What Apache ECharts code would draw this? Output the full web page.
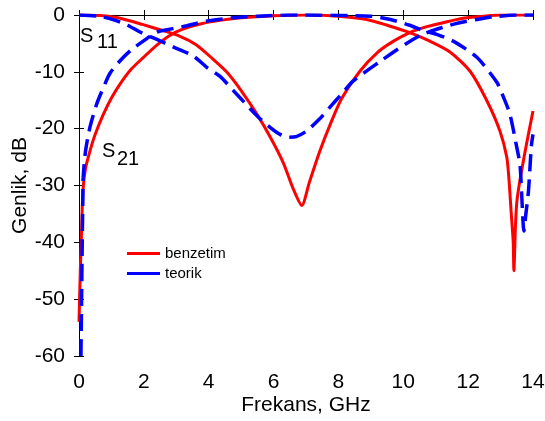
<!DOCTYPE html>
<html>
<head>
<meta charset="utf-8">
<script src="https://cdn.jsdelivr.net/npm/echarts@6/dist/echarts.min.js"></script>
<style>
  html, body { margin: 0; padding: 0; background: #fff; }
  #chart { width: 545px; height: 421px; }
</style>
</head>
<body>
<div id="chart"></div>
<script>
// frekans (GHz), genlik (dB) - okunan değerler
const s21Benzetim = [
  [0.00, -54], [0.04, -45], [0.08, -38], [0.12, -31], [0.2, -27], [0.34, -23.9],
  [0.5, -21], [0.75, -17.5], [1.0, -14.6], [1.26, -12.2], [1.6, -9.6], [1.98, -7.5],
  [2.4, -5.3], [2.8, -3.6], [3.2, -2.5], [3.8, -1.5], [4.4, -0.9], [5.0, -0.5],
  [6.0, -0.15], [7.0, 0], [8.0, -0.2], [8.87, -0.8], [9.5, -1.8], [10.2, -3.1],
  [10.82, -4.6], [11.44, -6.5], [12.06, -9.9], [12.57, -15], [12.98, -20.4],
  [13.19, -25], [13.26, -29], [13.33, -35], [13.39, -40], [13.41, -45],
  [13.46, -37], [13.5, -33], [13.6, -29], [13.8, -22.7], [14.0, -16.9]
];
const s11Benzetim = [
  [0, 0], [0.65, -0.1], [1.3, -0.6], [1.98, -1.7], [2.5, -2.6], [3.1, -3.7],
  [3.6, -5.2], [4.1, -7.6], [4.55, -10], [5.0, -13.3], [5.48, -17.4], [5.9, -21.5],
  [6.3, -26], [6.6, -30.5], [6.87, -33.5], [7.1, -29.5], [7.43, -23.9], [7.75, -19.2],
  [8.1, -14.7], [8.66, -9.9], [9.2, -6.6], [9.7, -4.6], [10.2, -3.1], [10.7, -2.1],
  [11.2, -1.4], [11.8, -0.6], [12.5, -0.2], [13, 0], [14, 0]
];
const s11Teorik = [
  [0, 0], [0.6, -0.2], [1.05, -0.8], [1.5, -1.8], [1.88, -3.0], [2.4, -4.3],
  [2.9, -5.6], [3.52, -7.2], [3.94, -9.2], [4.35, -10.8], [4.76, -13.3], [5.07, -15.2],
  [5.5, -17.8], [5.9, -19.8], [6.2, -21], [6.45, -21.5], [6.7, -21.4], [7.02, -20.4],
  [7.4, -18.4], [7.74, -16.2], [8.1, -13.9], [8.46, -11.6], [9.28, -8.2], [10.1, -5.0],
  [10.6, -3.4], [11.2, -2.2], [11.7, -1.4], [12.26, -0.8], [12.8, -0.3], [13.5, 0], [14, 0]
];
const s21Teorik = [
  [0.06, -60], [0.08, -50], [0.1, -40], [0.12, -32], [0.13, -28.5], [0.2, -24],
  [0.34, -19.7], [0.55, -15.6], [0.75, -12.8], [0.96, -10.2], [1.26, -8.1], [1.6, -6.2],
  [1.98, -4.6], [2.4, -3.0], [2.9, -2.4], [3.32, -1.9], [4.0, -1.0], [4.76, -0.5],
  [5.5, -0.2], [6.5, 0], [9.0, -0.2], [9.6, -0.8], [10.2, -1.8], [10.6, -2.7],
  [11.03, -3.4], [11.54, -4.6], [12.26, -7.4], [12.88, -11.8], [13.1, -14.6],
  [13.29, -17.5], [13.5, -23.3], [13.6, -26.4], [13.65, -31.5], [13.72, -38],
  [13.78, -35], [13.86, -31], [13.95, -23], [14.0, -21]
];
const legendNames = ["benzetim", "teorik"];
const xTicks = { min: 0, max: 14, interval: 2 };
const yTicks = { min: -60, max: 0, interval: 10 };

const font = "'Liberation Sans', Arial, sans-serif";
const red = "#ff0000";
const blue = "#0000ff";

const chart = echarts.init(document.getElementById("chart"), null, { renderer: "canvas" });

const axisCommon = {
  axisLine: { show: true, lineStyle: { color: "#000", width: 1 } },
  axisTick: { show: true, inside: true, length: 5, lineStyle: { color: "#000" } },
  splitLine: { show: false },
};

const options = {
  animation: false,
  backgroundColor: "#fff",
  grid: { left: 79, right: 12, top: 15, bottom: 65, outerBoundsMode: "none", containLabel: false },
  legend: {
    data: legendNames,
    orient: "vertical",
    left: 127,
    top: 246,
    padding: 0,
    icon: "rect",
    itemWidth: 33,
    itemHeight: 3,
    itemGap: 5,
    textStyle: { fontFamily: font, fontSize: 15, color: "#000", lineHeight: 15 },
  },
  xAxis: [
    {
      type: "value",
      ...xTicks,
      ...axisCommon,
      name: "Frekans, GHz",
      nameLocation: "middle",
      nameGap: 39,
      nameMoveOverlap: false,
      nameTextStyle: { fontFamily: font, fontSize: 21, color: "#000" },
      axisLabel: { fontFamily: font, fontSize: 21, color: "#000", margin: 16 },
    },
    {
      type: "value",
      position: "top",
      ...xTicks,
      ...axisCommon,
      axisLabel: { show: false },
    },
  ],
  yAxis: [
    {
      type: "value",
      ...yTicks,
      ...axisCommon,
      name: "Genlik, dB",
      nameLocation: "middle",
      nameGap: 48,
      nameMoveOverlap: false,
      nameTextStyle: { fontFamily: font, fontSize: 21, color: "#000" },
      axisLabel: { fontFamily: font, fontSize: 21, color: "#000", margin: 14 },
    },
    {
      type: "value",
      position: "right",
      ...yTicks,
      ...axisCommon,
      axisLabel: { show: false },
    },
  ],
  graphic: [
    { type: "text", left: 80, top: 26, style: { text: "S", font: "20px " + font, fill: "#000" } },
    { type: "text", left: 97, top: 32, style: { text: "11", font: "20px " + font, fill: "#000" } },
    { type: "text", left: 102, top: 141, style: { text: "S", font: "20px " + font, fill: "#000" } },
    { type: "text", left: 117, top: 149, style: { text: "21", font: "20px " + font, fill: "#000" } },
  ],
  series: [
    {
      name: "benzetim",
      type: "line",
      data: s11Benzetim,
      showSymbol: false,
      smooth: 0.25,
      itemStyle: { color: red },
      lineStyle: { color: red, width: 3 },
    },
    {
      name: "benzetim",
      type: "line",
      data: s21Benzetim,
      showSymbol: false,
      smooth: 0.25,
      itemStyle: { color: red },
      lineStyle: { color: red, width: 3 },
    },
    {
      name: "teorik",
      type: "line",
      data: s11Teorik,
      showSymbol: false,
      smooth: 0.25,
      itemStyle: { color: blue },
      lineStyle: { color: blue, width: 3.5, type: [17, 8] },
    },
    {
      name: "teorik",
      type: "line",
      data: s21Teorik,
      showSymbol: false,
      smooth: 0.25,
      itemStyle: { color: blue },
      lineStyle: { color: blue, width: 3.5, type: [17, 8] },
    },
  ],
};

chart.setOption(options);

window.addEventListener("resize", () => {
  chart.resize();
});
</script>
</body>
</html>
